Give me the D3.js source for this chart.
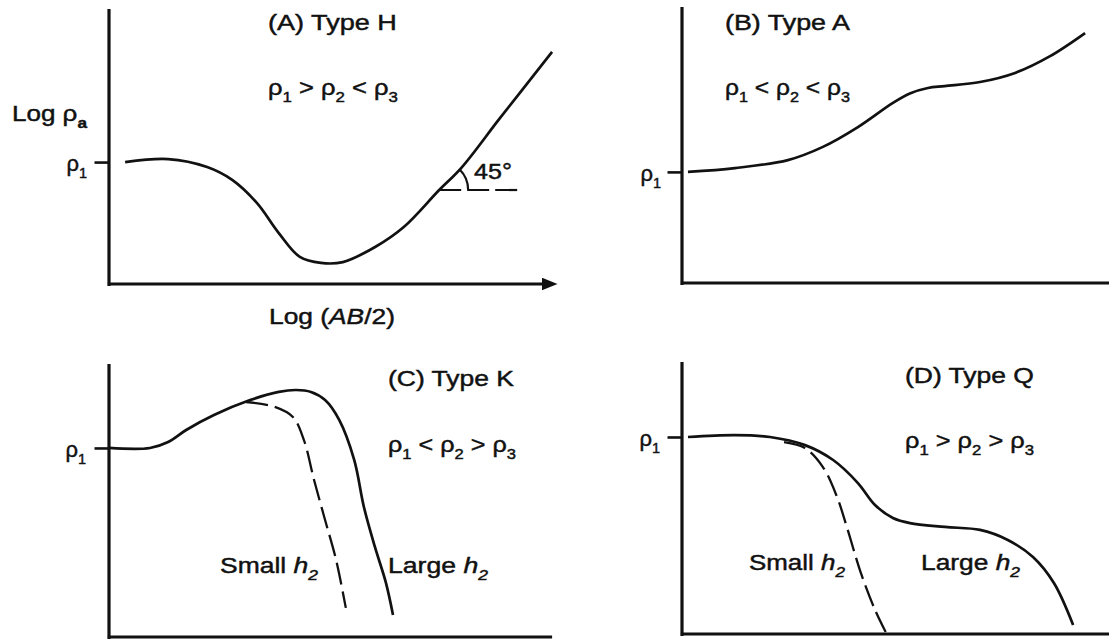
<!DOCTYPE html>
<html><head><meta charset="utf-8">
<script src="https://cdn.jsdelivr.net/npm/d3@7"></script>
<style>
html,body{margin:0;padding:0;background:#fff;}
svg{display:block;}
text{font-family:"Liberation Sans", Arial, Helvetica, sans-serif; fill:#111; stroke:#111; stroke-width:0.45px;}
</style>
</head><body>
<svg id="c" width="1109" height="639"></svg>
<script>
// ---------------- DATA (panel units: x 0..100 along log(AB/2), y 0..100 along log rho_a) ----------------
const panelLetters = ["A", "B", "C", "D"];
const panelTypes = ["H", "A", "K", "Q"];
const relations = [[">", "<"], ["<", "<"], ["<", ">"], [">", ">"]];
const rho1Levels = [44.5, 40.4, 69.5, 72.7];

const curveA = [[3.6,44.5],[13.2,45.6],[21.9,42.7],[27.5,38.0],[33.0,29.6],[37.9,18.6],[42.6,9.9],[47.3,7.7],[52.2,8.0],[59.4,13.5],[65.8,20.8],[73.7,34.3],[78.6,42.3],[87.3,60.6],[98.9,84.7]];
const curveB = [[1.4,40.4],[12.4,41.8],[24.8,44.7],[33.0,49.5],[41.2,56.7],[49.4,65.5],[53.5,69.0],[57.6,70.9],[61.5,71.6],[69.8,73.1],[78.0,76.4],[86.2,82.5],[94.4,90.9]];
const curveCLarge = [[0,69.5],[9.3,69.5],[13.4,71.7],[17.5,76.1],[23.8,81.6],[32.0,87.1],[38.5,90.1],[42.4,90.8],[45.8,90.1],[49.0,87.1],[52.2,79.8],[55.6,65.1],[57.8,47.8],[60.3,33.1],[62.8,19.9],[64.4,8.1]];
const curveCSmall = [[31.1,86.4],[37.6,84.6],[41.7,80.9],[44.2,72.4],[46.5,57.7],[49.0,43.0],[51.5,28.3],[53.7,10.7]];
const curveDLarge = [[1.4,72.7],[12.4,73.4],[20.6,72.7],[28.8,69.7],[35.4,64.2],[41.2,55.7],[45.2,47.6],[49.4,42.8],[53.4,40.9],[61.6,39.5],[69.8,38.4],[76.3,34.7],[82.2,28.4],[87.1,18.8],[91.6,3.3]];
const curveDSmall = [[23.9,70.8],[28.8,68.6],[33.0,61.6],[36.3,50.6],[38.6,39.5],[41.9,22.5],[45.2,8.9],[47.8,0.4]];
const solidCurves = [curveA, curveB, curveCLarge, curveDLarge];
const dashedCurves = [null, null, curveCSmall, curveDSmall];

const angleLabel = 45;          // degrees, panel A asymptote
const guideLevel = 34.3;        // y of the horizontal guide in panel A
const guideFrom = 73.7, guideTo = 91.3;

// ---------------- LAYOUT ----------------
const FS = 22;
const layout = [
  {x0:109, x1:541, yTop:10,  yBase:284, arrow:true,
   title:[268,30,129], formula:[268,95,130], rho:[87,171]},
  {x0:682, x1:1109, yTop:8, yBase:283,
   title:[725,30,125], formula:[725,95,125], rho:[661,181]},
  {x0:109, x1:550, yTop:365, yBase:637,
   title:[388,386,126], formula:[388,452,128], rho:[86,457],
   small:[220,573,98], large:[388,573,100]},
  {x0:682, x1:1109, yTop:363, yBase:634,
   title:[905,383,129], formula:[905,448,129], rho:[660,446],
   small:[749,570,96], large:[921,570,99]}
];

const svg = d3.select("#c");
svg.append("rect").attr("width",1109).attr("height",639).attr("fill","#fff");
const defs = svg.append("defs");
defs.append("marker").attr("id","arrow").attr("viewBox","0 0 16 13")
  .attr("refX",0).attr("refY",6.5).attr("markerWidth",16).attr("markerHeight",13)
  .attr("markerUnits","userSpaceOnUse").attr("orient","auto")
  .append("path").attr("d","M0,0L16,6.5L0,13Z").attr("fill","#111");

// rich text: segments [text, style] style: "", "sub", "i", "isub", "b-sub"
function rich(g, segs, size) {
  const t = g.append("text").attr("font-size", size);
  const shift = size * 0.3;
  let cur = 0;
  segs.forEach(([s, st]) => {
    const sp = t.append("tspan").text(s);
    const isSub = st && st.indexOf("sub") >= 0;
    const target = isSub ? shift : 0;
    if (target !== cur) { sp.attr("dy", target - cur); cur = target; }
    if (isSub) sp.attr("font-size", size * 0.66);
    if (st && st.indexOf("i") === 0) sp.attr("font-style", "italic");
    if (st && st.indexOf("b") === 0) sp.attr("font-weight", "bold");
  });
  return t;
}
function placeFit(t, x, y, w) {
  const bw = t.node().getComputedTextLength();
  const k = w && bw > 0 ? w / bw : 1;
  t.attr("transform", `translate(${x},${y}) scale(${k},1)`);
}
function placeEnd(t, xr, y) {
  const bw = t.node().getComputedTextLength();
  t.attr("transform", `translate(${xr - bw},${y})`);
}

const rhoSegs = n => [["ρ",""],[String(n),"sub"]];

layout.forEach((L, i) => {
  const g = svg.append("g");
  const x = d3.scaleLinear().domain([0,100]).range([L.x0, L.x1]);
  const xc = d3.scaleLinear().domain([0,100]).range([L.x0, L.arrow ? L.x1 + 16 : L.x1]);
  const y = d3.scaleLinear().domain([0,100]).range([L.yBase, L.yTop]);

  // y axis with rho1 tick
  const ya = g.append("g").attr("transform", `translate(${L.x0 - 0.5},0)`)
    .call(d3.axisLeft(y).tickValues([rho1Levels[i]]).tickSize(14).tickSizeOuter(0).tickFormat(""));
  ya.select(".domain").attr("stroke","#111").attr("stroke-width",3.2).attr("stroke-linecap","square");
  ya.selectAll(".tick line").attr("stroke","#111").attr("stroke-width",2.6);

  // x axis
  const xa = g.append("g").attr("transform", `translate(0,${L.yBase - 0.5})`)
    .call(d3.axisBottom(x).tickValues([]).tickSizeOuter(0));
  xa.select(".domain").attr("stroke","#111").attr("stroke-width",3.2).attr("stroke-linecap","square");
  if (L.arrow) xa.select(".domain").attr("marker-end","url(#arrow)");

  const line = d3.line().x(d => xc(d[0])).y(d => y(d[1])).curve(d3.curveCatmullRom.alpha(0.5));
  g.append("path").attr("d", line(solidCurves[i])).attr("fill","none")
    .attr("stroke","#111").attr("stroke-width",2.7).attr("stroke-linejoin","round");
  if (dashedCurves[i]) {
    g.append("path").attr("d", line(dashedCurves[i])).attr("fill","none")
      .attr("stroke","#111").attr("stroke-width",2.3).attr("stroke-dasharray","22,7");
  }

  // texts
  placeFit(rich(g, [["(" + panelLetters[i] + ") Type " + panelTypes[i], ""]], FS), L.title[0], L.title[1], L.title[2]);
  const r = relations[i];
  placeFit(rich(g, [["ρ",""],["1","sub"],[" " + r[0] + " ρ",""],["2","sub"],[" " + r[1] + " ρ",""],["3","sub"]], FS),
    L.formula[0], L.formula[1], L.formula[2]);
  placeEnd(rich(g, rhoSegs(1), FS), L.rho[0], L.rho[1]);
  if (L.small) {
    placeFit(rich(g, [["Small ",""],["h","i"],["2","isub"]], FS), L.small[0], L.small[1], L.small[2]);
    placeFit(rich(g, [["Large ",""],["h","i"],["2","isub"]], FS), L.large[0], L.large[1], L.large[2]);
  }

  if (i === 0) {
    placeFit(rich(g, [["Log ρ",""],["a","b-sub"]], FS), 12, 121, 75);
    placeFit(rich(g, [["Log (",""],["AB","i"],["/2)",""]], FS), 269, 324, 126);
    // 45 degree guide
    const gy = y(guideLevel);
    g.append("line").attr("x1", xc(guideFrom)).attr("x2", xc(guideTo)).attr("y1", gy).attr("y2", gy)
      .attr("stroke","#111").attr("stroke-width",2.2).attr("stroke-dasharray","22,6");
    const p = d3.path();
    const cx = xc(guideFrom), rad = 29, a0 = -angleLabel * Math.PI / 180;
    p.moveTo(cx + rad * Math.cos(a0), gy + rad * Math.sin(a0));
    p.arc(cx, gy, rad, a0, 0, false);
    g.append("path").attr("d", p.toString()).attr("fill","none").attr("stroke","#111").attr("stroke-width",2.2);
    placeFit(rich(g, [[angleLabel + "°",""]], FS), 474, 179, 38);
  }
});
</script>
</body></html>
